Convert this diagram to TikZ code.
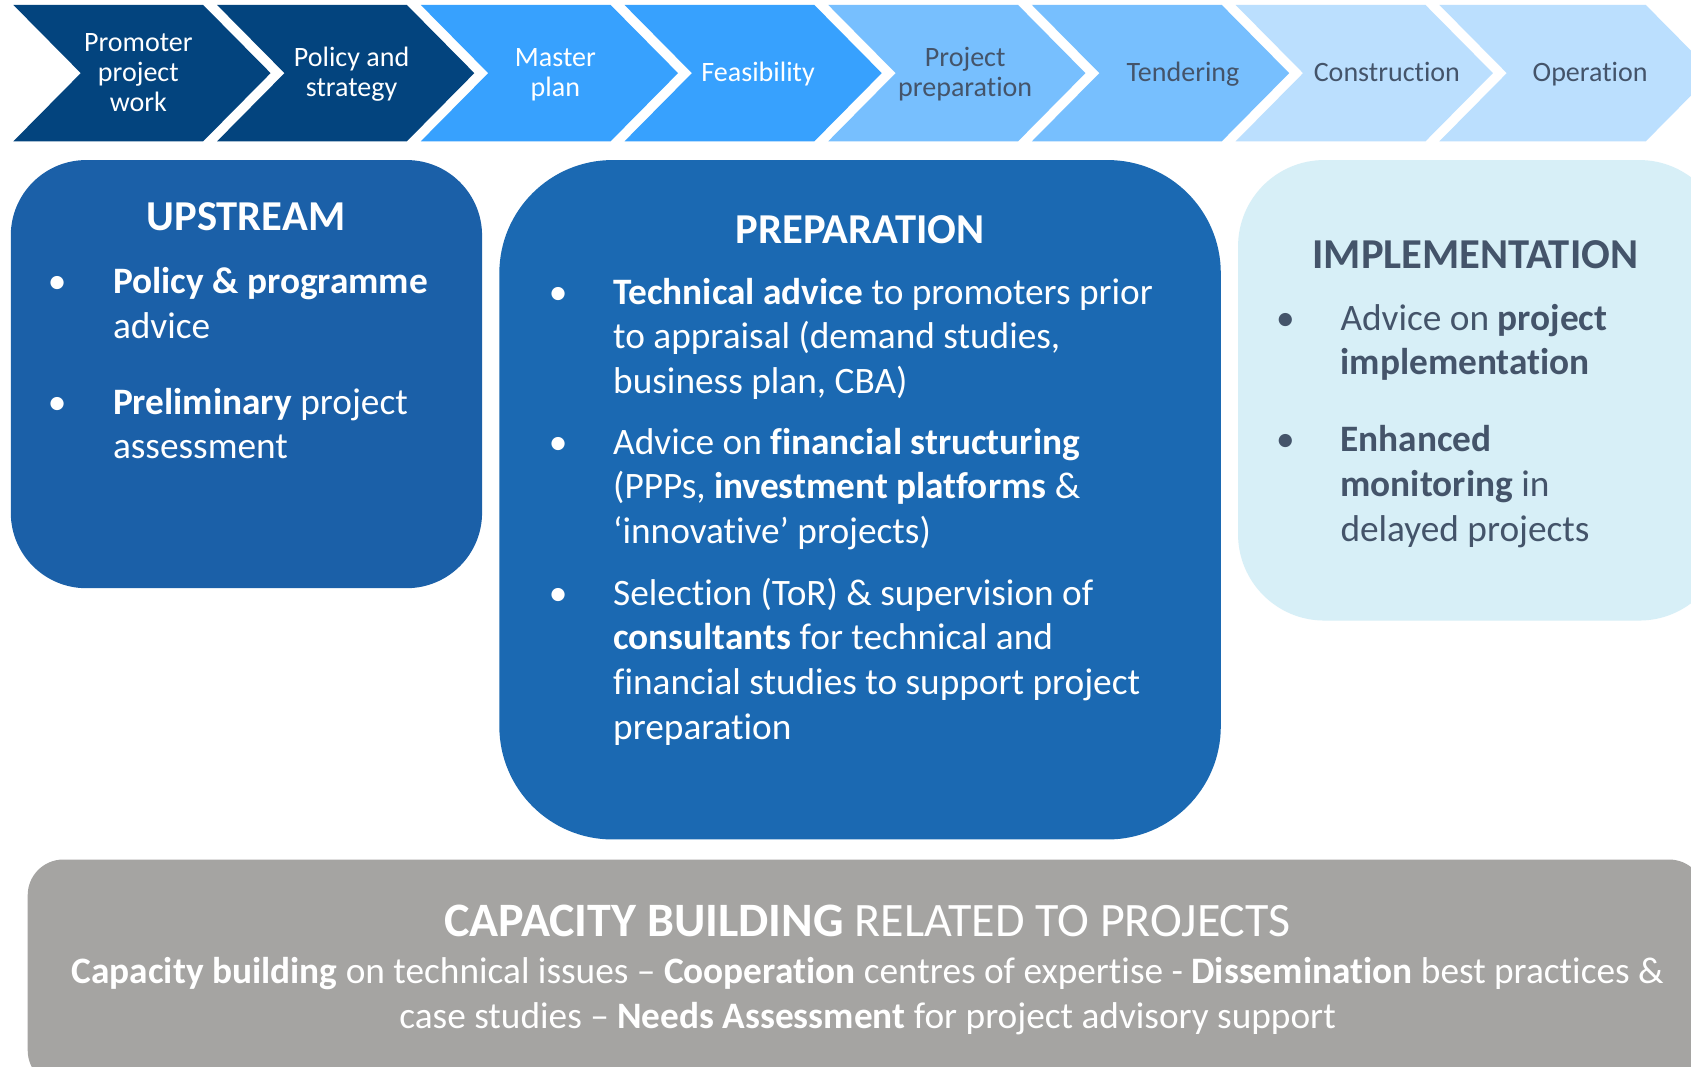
\documentclass[tikz,border=0pt]{standalone}
\usepackage{fontspec}
\setmainfont{Carlito}[Ligatures={TeX,NoCommon}]
\definecolor{navy}{RGB}{3,68,126}
\definecolor{brightb}{RGB}{55,161,254}
\definecolor{medb}{RGB}{119,191,254}
\definecolor{lightb}{RGB}{187,223,254}
\definecolor{slate}{RGB}{68,84,106}
\definecolor{upC}{RGB}{27,96,168}
\definecolor{prC}{RGB}{27,105,178}
\definecolor{imC}{RGB}{215,239,247}
\definecolor{caC}{RGB}{165,164,162}
\newcommand\mychev[3]{%
  \fill[#3] (#1,4.6) -- ++(#2,0) -- ++(62.5,63.2) -- ++(-62.5,63.2) -- ++(-#2,0) -- ++(62.5,-63.2) -- cycle;}
\begin{document}
\begin{tikzpicture}[x=1pt,y=-1pt,
  every node/.style={inner sep=0pt, outer sep=0pt},
  chevtxt/.style={align=center, anchor=north, font=\fontsize{26}{28}\selectfont},
  ttl/.style={anchor=base, font=\fontsize{39.5}{45}\selectfont\bfseries},
  item/.style={align=left, anchor=north west, font=\fontsize{34.6}{41.5}\selectfont},
  bul/.style={anchor=base, font=\fontsize{34.6}{41.5}\selectfont},
  box/.style={rectangle, anchor=north west}]
\useasboundingbox (0,0) rectangle (1568,989);
\clip (0,0) rectangle (1568,989);
\fill[white] (0,0) rectangle (1568,989);
% chevrons
\mychev{12.4}{176}{navy}
\mychev{201.3}{176}{navy}
\mychev{390.2}{176}{brightb}
\mychev{579.1}{176}{brightb}
\mychev{768}{176}{medb}
\mychev{956.9}{176}{medb}
\mychev{1145.8}{176}{lightb}
\mychev{1334.7}{191.4}{lightb}
\node[chevtxt, text=white] (c1) at (128.3,27.9) {\strut Promoter\\project\\work};
\node[chevtxt, text=white] (c2) at (326,41.9) {\strut Policy and\\strategy};
\node[chevtxt, text=white] (c3) at (515,41.9) {\strut Master\\plan};
\node[chevtxt, text=white] (c4) at (703,55.9) {\strut Feasibility};
\node[chevtxt, text=slate] (c5) at (895,41.9) {\strut Project\\preparation};
\node[chevtxt, text=slate] (c6) at (1097,55.9) {\strut Tendering};
\node[chevtxt, text=slate] (c7) at (1286,55.9) {\strut Construction};
\node[chevtxt, text=slate] (c8) at (1474.5,55.9) {\strut Operation};
% boxes
\node[box, fill=upC, rounded corners=70pt, minimum width=437pt, minimum height=397pt] (up) at (10,148.4) {};
\node[box, fill=prC, rounded corners=105pt, minimum width=669pt, minimum height=630pt] (pr) at (463,148.4) {};
\node[box, fill=imC, rounded corners=80pt, minimum width=452pt, minimum height=427pt] (im) at (1148,148.4) {};
\node[box, fill=caC, rounded corners=33pt, minimum width=1555pt, minimum height=210pt] (ca) at (25.7,797) {};
% upstream
\node[ttl, text=white] (upT) at (228,214) {UPSTREAM};
\node[bul, text=white] (ub1) at (53,272) {\textbullet};
\node[bul, text=white] (ub2) at (53,384) {\textbullet};
\node[item, text=white] (ui1) at (104.8,242.95) {\strut\textbf{Policy \& programme}\\advice};
\node[item, text=white] (ui2) at (104.8,354.95) {\strut\textbf{Preliminary} project\\assessment};
% preparation
\node[ttl, text=white] (prT) at (797.5,225.6) {PREPARATION};
\node[bul, text=white] (pb1) at (517.5,282) {\textbullet};
\node[bul, text=white] (pb2) at (517.5,421) {\textbullet};
\node[bul, text=white] (pb3) at (517.5,561) {\textbullet};
\node[item, text=white] (pi1) at (568.6,252.95) {\strut\textbf{Technical advice} to promoters prior\\to appraisal (demand studies,\\business plan, CBA)};
\node[item, text=white] (pi2) at (568.6,391.95) {\strut Advice on \textbf{financial structuring}\\(PPPs, \textbf{investment platforms} \&\\‘innovative’ projects)};
\node[item, text=white] (pi3) at (568.6,531.95) {\strut Selection (ToR) \& supervision of\\\textbf{consultants} for technical and\\financial studies to support project\\preparation};
% implementation
\node[ttl, text=slate] (imT) at (1368,249) {IMPLEMENTATION};
\node[bul, text=slate] (ib1) at (1192,306) {\textbullet};
\node[bul, text=slate] (ib2) at (1192,419) {\textbullet};
\node[item, text=slate] (ii1) at (1243,276.95) {\strut Advice on \textbf{project}\\\textbf{implementation}};
\node[item, text=slate] (ii2) at (1243,389.95) {\strut\textbf{Enhanced}\\\textbf{monitoring} in\\delayed projects};
% capacity
\node[anchor=base, font=\fontsize{44.5}{50}\selectfont, text=white] (caT) at (804.5,868) {\textbf{CAPACITY BUILDING} RELATED TO PROJECTS};
\node[align=center, anchor=north, font=\fontsize{34.6}{42}\selectfont, text=white] (caB) at (804.5,882.6) {\strut\textbf{Capacity building} on technical issues – \textbf{Cooperation} centres of expertise - \textbf{Dissemination} best practices \&\\case studies – \textbf{Needs Assessment} for project advisory support};
\end{tikzpicture}
\end{document}
